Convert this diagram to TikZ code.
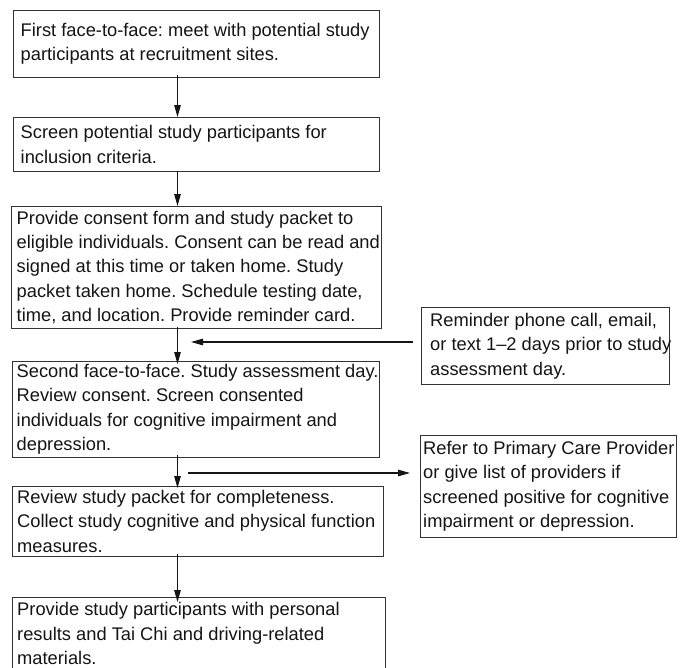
\documentclass[tikz,border=0pt]{standalone}
\usepackage{fontspec}
\setmainfont{Liberation Sans}
\usetikzlibrary{arrows.meta}
\definecolor{edge}{HTML}{333333}
\definecolor{ink}{HTML}{151515}
\frenchspacing
\begin{document}
\begin{tikzpicture}[x=1pt,y=-1pt,
  box/.style={draw=edge,line width=0.9pt,inner sep=0pt,anchor=north west},
  txt/.style={inner sep=0pt,anchor=west,align=left,text=ink,
    font=\fontsize{18.3}{24.4}\selectfont},
  arr/.style={draw=ink,line width=1.1pt,-{Triangle[length=12pt,width=6.5pt]}}]
\useasboundingbox (0,0) rectangle (680,667);
\clip (0,0) rectangle (680,667);
\fill[white] (0,0) rectangle (680,667);
% boxes
\node[box,minimum width=366.5pt,minimum height=67pt] (b1) at (12.5,10) {};
\node[box,minimum width=366.5pt,minimum height=54pt] (b2) at (12.5,117) {};
\node[box,minimum width=370.5pt,minimum height=122pt] (b3) at (10.5,206) {};
\node[box,minimum width=367pt,minimum height=96pt] (b4) at (12,361) {};
\node[box,minimum width=371pt,minimum height=70pt] (b5) at (12,486) {};
\node[box,minimum width=373pt,minimum height=74pt] (b6) at (12,597) {};
\node[box,minimum width=248pt,minimum height=77pt] (rem) at (421,307) {};
\node[box,minimum width=256pt,minimum height=102pt] (ref) at (420,435) {};
% texts
\node[txt] (t1) at ([xshift=8pt]b1.west) {First face-to-face: meet with potential study\\participants at recruitment sites.};
\node[txt] (t2) at ([xshift=8pt]b2.west) {Screen potential study participants for\\inclusion criteria.};
\node[txt] (t3) at ([xshift=6pt]b3.west) {Provide consent form and study packet to\\eligible individuals. Consent can be read and\\signed at this time or taken home. Study\\packet taken home. Schedule testing date,\\time, and location. Provide reminder card.};
\node[txt] (t4) at ([xshift=4.5pt]b4.west) {Second face-to-face. Study assessment day.\\Review consent. Screen consented\\individuals for cognitive impairment and\\depression.};
\node[txt] (t5) at ([xshift=5pt]b5.west) {Review study packet for completeness.\\Collect study cognitive and physical function\\measures.};
\node[txt] (t6) at ([xshift=5pt,yshift=1pt]b6.west) {Provide study participants with personal\\results and Tai Chi and driving-related\\materials.};
\node[txt] (trem) at ([xshift=9pt]rem.west) {Reminder phone call, email,\\or text 1–2 days prior to study\\assessment day.};
\node[txt] (tref) at ([xshift=3pt]ref.west) {Refer to Primary Care Provider\\or give list of providers if\\screened positive for cognitive\\impairment or depression.};
% spine and side coordinates
\coordinate (spine) at (177.5,0);
\coordinate (h1) at (191,342);
\coordinate (h2) at (188,473);
% vertical arrows
\draw[arr] ([yshift=3pt]b1.south -| spine) -- (b2.north -| spine);
\draw[arr] ([yshift=1pt]b2.south -| spine) -- (b3.north -| spine);
\draw[arr] ([yshift=2pt]b3.south -| spine) -- ([yshift=-3pt]b4.north -| spine);
\draw[arr] ([yshift=3pt]b4.south -| spine) -- ([yshift=-2pt]b5.north -| spine);
\draw[arr] ([yshift=3pt]b5.south -| spine) -- ([yshift=-5pt]b6.north -| spine);
% side arrows
\draw[arr] ([xshift=-8pt]rem.west |- h1) -- (h1);
\draw[arr] (h2) -- ([xshift=-10pt]ref.west |- h2);
\end{tikzpicture}
\end{document}
